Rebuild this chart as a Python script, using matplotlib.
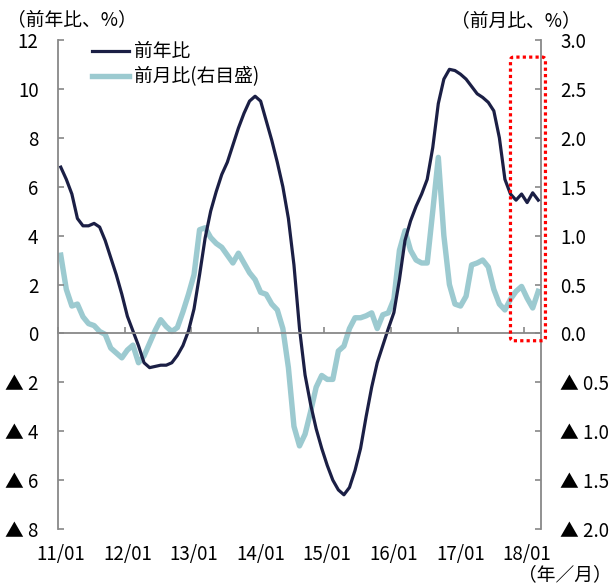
import matplotlib
matplotlib.use("Agg")
import matplotlib.pyplot as plt
import matplotlib.transforms as mtransforms
from matplotlib.patches import FancyBboxPatch

plt.rcParams['font.family'] = ['Noto Sans CJK JP', 'DejaVu Sans']
plt.rcParams['font.size'] = 13.5

# monthly, 2011/01 - 2018/03
yoy = [6.8, 6.3, 5.7, 4.7, 4.4, 4.4, 4.5, 4.35, 3.8, 3.1, 2.4, 1.6,
       0.7, 0.1, -0.5, -1.2, -1.4, -1.35, -1.3, -1.3, -1.2, -0.9, -0.5, 0.1,
       1.0, 2.4, 3.9, 5.0, 5.8, 6.5, 7.0, 7.7, 8.4, 9.0, 9.5, 9.7,
       9.5, 8.7, 7.9, 7.0, 6.0, 4.7, 2.8, 0.2, -1.7, -2.9, -3.9, -4.7,
       -5.4, -6.0, -6.4, -6.6, -6.3, -5.6, -4.7, -3.4, -2.2, -1.2, -0.5, 0.2,
       0.85, 2.2, 3.8, 4.6, 5.2, 5.7, 6.3, 7.6, 9.4, 10.4, 10.8, 10.75,
       10.6, 10.4, 10.1, 9.8, 9.65, 9.45, 9.1, 8.0, 6.3, 5.7, 5.45, 5.7,
       5.35, 5.75, 5.45]

mom = [0.8, 0.45, 0.28, 0.3, 0.17, 0.1, 0.08, 0.02, -0.01, -0.15, -0.2, -0.25,
       -0.17, -0.12, -0.3, -0.23, -0.1, 0.03, 0.14, 0.07, 0.02, 0.06, 0.22, 0.4,
       0.6, 1.06, 1.08, 0.98, 0.92, 0.88, 0.8, 0.72, 0.82, 0.72, 0.62, 0.55,
       0.42, 0.4, 0.3, 0.24, 0.05, -0.35, -0.95, -1.15, -1.03, -0.8, -0.55, -0.43,
       -0.47, -0.47, -0.18, -0.13, 0.05, 0.16, 0.16, 0.18, 0.21, 0.05, 0.19, 0.21,
       0.35, 0.85, 1.05, 0.85, 0.75, 0.72, 0.72, 1.25, 1.8, 1.0, 0.5, 0.3,
       0.28, 0.38, 0.7, 0.72, 0.75, 0.68, 0.45, 0.3, 0.24, 0.35, 0.43, 0.48,
       0.36, 0.26, 0.43]

year_labels = ["11/01", "12/01", "13/01", "14/01", "15/01", "16/01", "17/01", "18/01"]
left_ticks = [12, 10, 8, 6, 4, 2, 0, -2, -4, -6, -8]
left_labels = ["12", "10", "8", "6", "4", "2", "0", "▲ 2", "▲ 4", "▲ 6", "▲ 8"]
right_ticks = [3.0, 2.5, 2.0, 1.5, 1.0, 0.5, 0.0, -0.5, -1.0, -1.5, -2.0]
right_labels = ["3.0", "2.5", "2.0", "1.5", "1.0", "0.5", "0.0",
                "▲ 0.5", "▲ 1.0", "▲ 1.5", "▲ 2.0"]

NAVY = "#1b1f45"
LIGHT = "#9ccad0"
GRAY = "#888888"

fig = plt.figure(figsize=(6.15, 5.88), dpi=100)
ax = fig.add_axes([0.0943, 0.1003, 0.7854, 0.8317])
ax2 = ax.twinx()
ax.set_zorder(ax2.get_zorder() + 1)
ax.patch.set_visible(False)

x = list(range(len(yoy)))
l1, = ax.plot(x, yoy, color=NAVY, lw=2.3, solid_joinstyle='round', label="前年比")
l2, = ax2.plot(x, mom, color=LIGHT, lw=3.9, solid_joinstyle='round', label="前月比(右目盛)")

ax.set_xlim(-0.5, len(yoy) - 0.5)
ax.set_ylim(-8, 12)
ax2.set_ylim(-2, 3)

# spines
for a in (ax, ax2):
    a.spines['top'].set_visible(False)
ax.spines['right'].set_visible(False)
ax2.spines['left'].set_visible(False)
ax2.spines['bottom'].set_visible(False)
ax.spines['left'].set_color(GRAY)
ax2.spines['right'].set_color(GRAY)
ax.spines['bottom'].set_position(('data', 0))
ax.spines['bottom'].set_color(GRAY)
for s in (ax.spines['left'], ax2.spines['right'], ax.spines['bottom']):
    s.set_linewidth(1.3)

ax.set_xticks([12 * k - 0.5 for k in range(len(year_labels))])
ax.tick_params(axis='x', direction='in', length=4, color=GRAY, width=1.2,
               labelbottom=False)
ax.set_yticks(left_ticks)
ax.set_yticklabels(left_labels)
ax.tick_params(axis='y', direction='in', length=4, color=GRAY, width=1.2, pad=14)
ax2.set_yticks(right_ticks)
ax2.set_yticklabels(right_labels, ha='left')
ax2.tick_params(axis='y', direction='in', length=4, color=GRAY, width=1.2, pad=14)

trans = mtransforms.blended_transform_factory(ax.transData, ax.transAxes)
for k, lab in enumerate(year_labels):
    ax.text(12 * k, -0.053, lab, transform=trans, ha='center', va='center')

# red dotted highlight box
box = FancyBboxPatch((81.0, -0.3), 6.3, 11.6,
                     boxstyle="round,pad=0,rounding_size=0.6",
                     mutation_aspect=0.23, fill=False, edgecolor="#ff0000",
                     lw=2.3, linestyle=(0, (1, 1)), clip_on=False, zorder=5)
ax.add_patch(box)

ax.legend(handles=[l1, l2], loc='upper left', bbox_to_anchor=(0.07, 0.997),
          frameon=False, borderpad=0, borderaxespad=0, handlelength=2.0,
          handletextpad=0.25, labelspacing=0.2, fontsize=13.5)

fig.text(0.012, 0.967, "（前年比、%）", ha='left', va='center')
fig.text(0.945, 0.965, "（前月比、%）", ha='right', va='center')
fig.text(0.995, 0.022, "（年／月）", ha='right', va='center')

fig.savefig("out.png", dpi=100)
